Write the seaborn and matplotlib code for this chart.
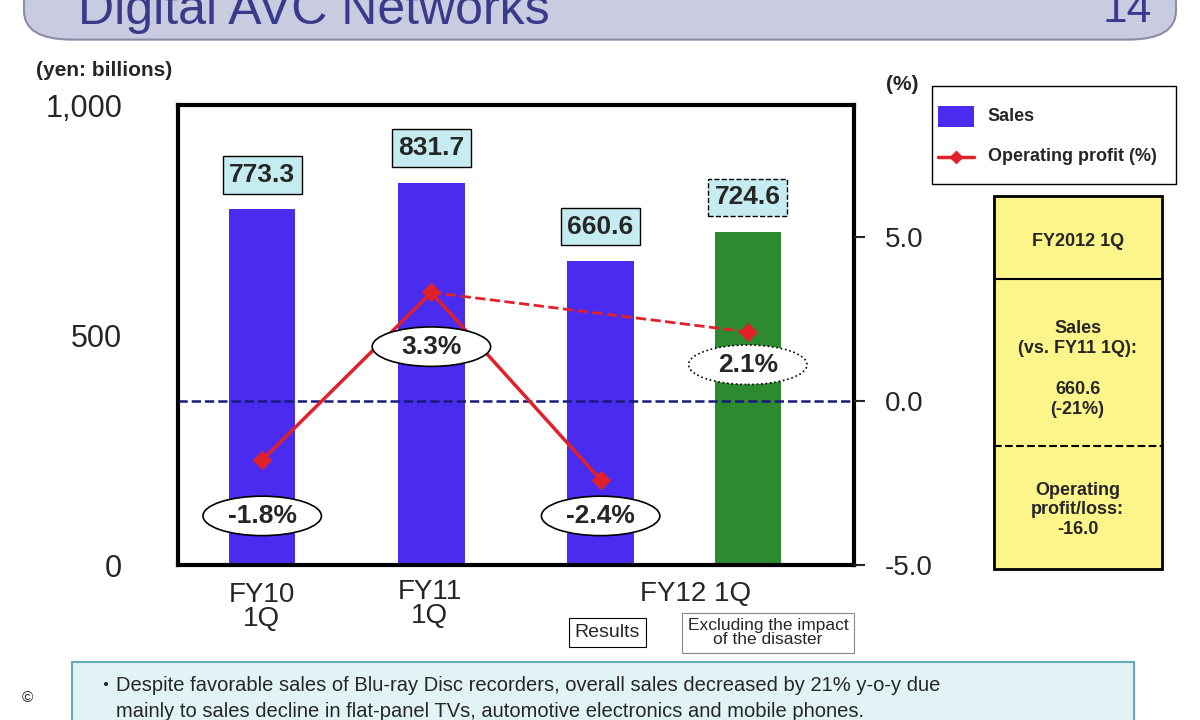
import matplotlib
matplotlib.use("Agg")
import matplotlib.pyplot as plt
import seaborn as sns
import pandas as pd
from matplotlib.patches import FancyBboxPatch, Ellipse, Rectangle

periods = ["FY10 1Q", "FY11 1Q", "FY12 1Q Results", "FY12 1Q Excl."]
xpos = [0, 1, 2, 2.87]
sales = [773.3, 831.7, 660.6, 724.6]
profit_pct = [-1.8, 3.3, -2.4, 2.1]
bar_colors = ["#4a2cf0", "#4a2cf0", "#4a2cf0", "#2e8a2e"]

sns.set_style("white")
plt.rcParams['font.family'] = ['Liberation Sans', 'Noto Sans CJK JP', 'DejaVu Sans']

fig = plt.figure(figsize=(12, 7.2), dpi=100)
fig.patch.set_facecolor("white")

# title banner
banner = FancyBboxPatch((0.02, 0.945), 0.96, 0.1, boxstyle="round,pad=0,rounding_size=0.04",
                        transform=fig.transFigure, facecolor="#c9cbe0", edgecolor="#8a8ca8", lw=1.5)
fig.patches.append(banner)
fig.text(0.065, 0.985, "Digital AVC Networks", fontsize=36, color="#3a3a8a", va="center")
fig.text(0.96, 0.985, "14", fontsize=32, color="#3a3a8a", va="center", ha="right")

ax = fig.add_axes([0.148, 0.215, 0.564, 0.639])
df = pd.DataFrame({"x": xpos, "sales": sales, "period": periods})
sns.barplot(data=df, x="x", y="sales", hue="period", palette=bar_colors, native_scale=True,
            width=0.45, legend=False, ax=ax, edgecolor="none", saturation=1)
ax.set_xlim(-0.5, 3.5)
ax.set_ylim(0, 1000)
ax.set_yticks([0, 500, 1000])
ax.set_yticklabels(["0", "500", "1,000"], fontsize=22)
ax.set_xticks([])
ax.set_xlabel("")
ax.set_ylabel("")
ax.tick_params(axis="y", length=0, pad=40)
for s in ax.spines.values():
    s.set_linewidth(3)
    s.set_color("black")

for x, v, dashed in zip(xpos, sales, [False, False, False, True]):
    ax.text(x, v + 75, f"{v:.1f}", ha="center", va="center", fontsize=19, fontweight="bold",
            bbox=dict(boxstyle="square,pad=0.25", fc="#c5ecf0", ec="black",
                      ls="--" if dashed else "-", lw=1))

ax2 = ax.twinx()
ax2.set_ylim(-5, 9)
ax2.set_yticks([-5, 0, 5])
ax2.set_yticklabels(["-5.0", "0.0", "5.0"], fontsize=20)
ax2.tick_params(axis="y", length=8, width=1.5, pad=14)
for s in ax2.spines.values():
    s.set_visible(False)
ax2.axhline(0, color="#1a1a7a", ls="--", lw=1.8)
sns.lineplot(x=xpos[:3], y=profit_pct[:3], color="#e0202a", lw=2.5, marker="D", markersize=9,
             markeredgecolor="#e0202a", ax=ax2)
sns.lineplot(x=[xpos[1], xpos[3]], y=[profit_pct[1], profit_pct[3]], color="#e0202a", lw=2,
             ls="--", ax=ax2)
sns.scatterplot(x=[xpos[3]], y=[profit_pct[3]], color="#e0202a", marker="D", s=80, ax=ax2,
                edgecolor="#e0202a")

label_y = [-3.5, 1.65, -3.5, 1.1]
for x, p, ly, dashed in zip(xpos, profit_pct, label_y, [False, False, False, True]):
    ax2.add_patch(Ellipse((x, ly), 0.7, 1.2, fc="white", ec="black", lw=1.2,
                          ls=":" if dashed else "-", zorder=5))
    ax2.text(x, ly, f"{p:.1f}%", ha="center", va="center", fontsize=19, fontweight="bold", zorder=6)

fig.text(0.03, 0.895, "(yen: billions)", fontsize=15, fontweight="bold")
fig.text(0.738, 0.875, "(%)", fontsize=15, fontweight="bold")

# x labels
fig.text(0.218, 0.13, "FY10\n1Q", ha="center", fontsize=20, linespacing=0.9)
fig.text(0.358, 0.135, "FY11\n1Q", ha="center", fontsize=20, linespacing=0.9)
fig.text(0.58, 0.165, "FY12 1Q", ha="center", fontsize=20)
fig.text(0.506, 0.115, "Results", ha="center", fontsize=14,
         bbox=dict(boxstyle="square,pad=0.3", fc="white", ec="black", lw=0.8))
fig.text(0.64, 0.105, "Excluding the impact\nof the disaster", ha="center", fontsize=12.5,
         linespacing=0.95, bbox=dict(boxstyle="square,pad=0.3", fc="white", ec="#888", lw=0.8))

# legend
fig.patches.append(Rectangle((0.777, 0.745), 0.203, 0.135, transform=fig.transFigure,
                             fc="white", ec="black", lw=1))
fig.patches.append(Rectangle((0.782, 0.823), 0.03, 0.03, transform=fig.transFigure,
                             fc="#4a2cf0", ec="none"))
fig.text(0.823, 0.838, "Sales", fontsize=13, fontweight="bold", va="center")
leg_line = plt.Line2D([0.782, 0.797, 0.812], [0.782, 0.782, 0.782], transform=fig.transFigure,
                      color="#e0202a", lw=2.5, marker="D", markersize=6,
                      markevery=[1], markeredgecolor="#e0202a")
fig.lines.append(leg_line)
fig.text(0.823, 0.782, "Operating profit (%)", fontsize=13, fontweight="bold", va="center")

# yellow summary panel
fig.patches.append(Rectangle((0.828, 0.21), 0.14, 0.518, transform=fig.transFigure,
                             fc="#fbf58a", ec="black", lw=2))
fig.lines.append(plt.Line2D([0.828, 0.968], [0.612, 0.612], transform=fig.transFigure,
                            color="black", lw=1.5))
fig.lines.append(plt.Line2D([0.828, 0.968], [0.38, 0.38], transform=fig.transFigure,
                            color="black", lw=1.5, ls="--"))
fig.text(0.898, 0.665, "FY2012 1Q", ha="center", va="center", fontsize=13, fontweight="bold")
fig.text(0.898, 0.53, "Sales\n(vs. FY11 1Q):", ha="center", va="center", fontsize=13,
         fontweight="bold")
fig.text(0.898, 0.445, "660.6\n(-21%)", ha="center", va="center", fontsize=13, fontweight="bold")
fig.text(0.898, 0.292, "Operating\nprofit/loss:\n-16.0", ha="center", va="center", fontsize=13,
         fontweight="bold")

# bottom note
fig.patches.append(Rectangle((0.06, -0.05), 0.885, 0.13, transform=fig.transFigure,
                             fc="#e2f3f5", ec="#6ab", lw=1.5))
fig.text(0.08, 0.048, "・Despite favorable sales of Blu-ray Disc recorders, overall sales decreased by 21% y-o-y due",
         fontsize=14.5, va="center")
fig.text(0.097, 0.012, "mainly to sales decline in flat-panel TVs, automotive electronics and mobile phones.",
         fontsize=14.5, va="center")
fig.text(0.018, 0.03, "©", fontsize=11, va="center")

fig.savefig("out.png", dpi=100)
